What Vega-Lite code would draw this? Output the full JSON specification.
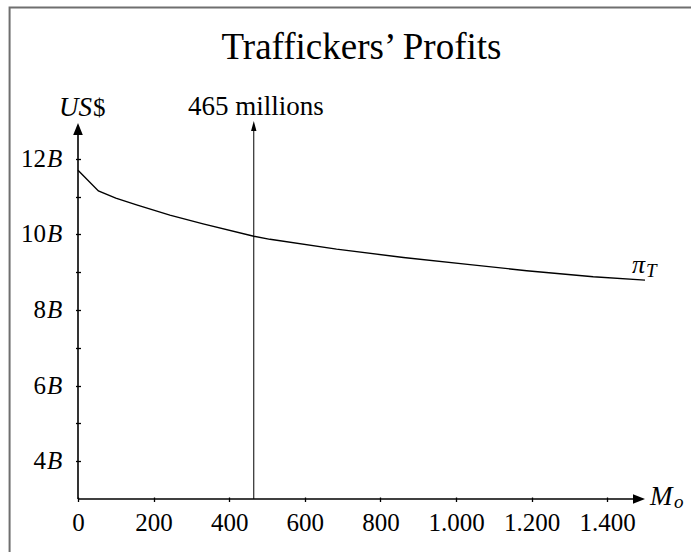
{
  "$schema": "https://vega.github.io/schema/vega-lite/v6.json",
  "width": 567,
  "height": 378,
  "autosize": "none",
  "padding": {"left": 78, "top": 121, "right": 46, "bottom": 53},
  "background": "white",
  "config": {"view": {"stroke": null}, "font": "Liberation Serif"},
  "title": {"text": "Traffickers’ Profits", "font": "Liberation Serif", "fontSize": 37, "fontWeight": "normal", "color": "black", "anchor": "middle", "frame": "group", "baseline": "alphabetic", "offset": -89},
  "datasets": {
    "curve": [
      {"mo": 0, "profit": 11.70},
      {"mo": 54, "profit": 11.15},
      {"mo": 100, "profit": 10.96},
      {"mo": 155, "profit": 10.78},
      {"mo": 243, "profit": 10.51},
      {"mo": 331, "profit": 10.28},
      {"mo": 465, "profit": 9.95},
      {"mo": 508, "profit": 9.87},
      {"mo": 684, "profit": 9.61},
      {"mo": 861, "profit": 9.39},
      {"mo": 1037, "profit": 9.20},
      {"mo": 1187, "profit": 9.04},
      {"mo": 1363, "profit": 8.88},
      {"mo": 1500, "profit": 8.79}
    ],
    "frame": [{"x1": -181, "x2": 1800, "y1": 16.0, "y2": -2}],
    "ylabels": [
      {"v": 4, "n": "4", "u": "B"},
      {"v": 6, "n": "6", "u": "B"},
      {"v": 8, "n": "8", "u": "B"},
      {"v": 10, "n": "10", "u": "B"},
      {"v": 12, "n": "12", "u": "B"}
    ]
  },
  "layer": [
    {
      "data": {"name": "frame"},
      "mark": {"type": "rect", "fillOpacity": 0, "stroke": "#6f6f6f", "strokeWidth": 2},
      "encoding": {
        "x": {"field": "x1", "type": "quantitative", "scale": {"domain": [0, 1500], "nice": false, "zero": false},
          "axis": {"values": [0, 200, 400, 600, 800, 1000, 1200, 1400], "domain": false, "grid": false, "tickSize": 4.5, "tickWidth": 1.3, "tickColor": "black", "offset": -2, "labelPadding": 9, "labelFont": "Liberation Serif", "labelFontSize": 25, "labelColor": "black", "labelExpr": "replace(format(datum.value, ','), ',', '.')", "title": null, "labelFlush": false, "labelOverlap": false}},
        "x2": {"field": "x2"},
        "y": {"field": "y1", "type": "quantitative", "scale": {"domain": [3, 13], "nice": false, "zero": false},
          "axis": {"values": [4, 5, 6, 7, 8, 9, 10, 11, 12], "domain": false, "grid": false, "labels": false, "tickSize": 5, "tickWidth": 1.3, "tickColor": "black", "offset": -2.5, "title": null}},
        "y2": {"field": "y2"}
      }
    },
    {
      "data": {"name": "curve"},
      "mark": {"type": "line", "color": "black", "strokeWidth": 1.4},
      "encoding": {
        "x": {"field": "mo", "type": "quantitative", "scale": {"domain": [0, 1500], "nice": false, "zero": false}},
        "y": {"field": "profit", "type": "quantitative", "scale": {"domain": [3, 13], "nice": false, "zero": false}}
      }
    },
    {
      "data": {"values": [{"x1": 0, "x2": 1485, "y": 3}]},
      "mark": {"type": "rule", "color": "black", "strokeWidth": 1.6},
      "encoding": {
        "x": {"field": "x1", "type": "quantitative", "scale": {"domain": [0, 1500], "nice": false, "zero": false}},
        "x2": {"field": "x2"},
        "y": {"field": "y", "type": "quantitative", "scale": {"domain": [3, 13], "nice": false, "zero": false}}
      }
    },
    {
      "data": {"values": [{"x": 0, "y1": 3, "y2": 12.75}]},
      "mark": {"type": "rule", "color": "black", "strokeWidth": 1.6},
      "encoding": {
        "x": {"field": "x", "type": "quantitative", "scale": {"domain": [0, 1500], "nice": false, "zero": false}},
        "y": {"field": "y1", "type": "quantitative", "scale": {"domain": [3, 13], "nice": false, "zero": false}},
        "y2": {"field": "y2"}
      }
    },
    {
      "data": {"values": [{"x": 465, "y1": 3, "y2": 12.8}]},
      "mark": {"type": "rule", "color": "black", "strokeWidth": 1},
      "encoding": {
        "x": {"field": "x", "type": "quantitative", "scale": {"domain": [0, 1500], "nice": false, "zero": false}},
        "y": {"field": "y1", "type": "quantitative", "scale": {"domain": [3, 13], "nice": false, "zero": false}},
        "y2": {"field": "y2"}
      }
    },
    {
      "data": {"values": [{"x": 1500, "y": 3}]},
      "mark": {"type": "point", "shape": "M0,0 L-1,-0.4 L-1,0.4 Z", "size": 576, "filled": true, "color": "black", "opacity": 1, "strokeWidth": 0},
      "encoding": {
        "x": {"field": "x", "type": "quantitative", "scale": {"domain": [0, 1500], "nice": false, "zero": false}},
        "y": {"field": "y", "type": "quantitative", "scale": {"domain": [3, 13], "nice": false, "zero": false}}
      }
    },
    {
      "data": {"values": [{"x": 0, "y": 12.95}]},
      "mark": {"type": "point", "shape": "M0,0 L0.4,1 L-0.4,1 Z", "size": 576, "filled": true, "color": "black", "opacity": 1, "strokeWidth": 0},
      "encoding": {
        "x": {"field": "x", "type": "quantitative", "scale": {"domain": [0, 1500], "nice": false, "zero": false}},
        "y": {"field": "y", "type": "quantitative", "scale": {"domain": [3, 13], "nice": false, "zero": false}}
      }
    },
    {
      "data": {"values": [{"x": 465, "y": 13}]},
      "mark": {"type": "point", "shape": "M0,0 L0.27,1 L-0.27,1 Z", "size": 400, "filled": true, "color": "black", "opacity": 1, "strokeWidth": 0},
      "encoding": {
        "x": {"field": "x", "type": "quantitative", "scale": {"domain": [0, 1500], "nice": false, "zero": false}},
        "y": {"field": "y", "type": "quantitative", "scale": {"domain": [3, 13], "nice": false, "zero": false}}
      }
    },
    {
      "data": {"name": "ylabels"},
      "mark": {"type": "text", "align": "right", "baseline": "middle", "dx": -32, "fontSize": 25, "color": "black"},
      "encoding": {
        "x": {"datum": 0, "type": "quantitative", "scale": {"domain": [0, 1500], "nice": false, "zero": false}},
        "y": {"field": "v", "type": "quantitative", "scale": {"domain": [3, 13], "nice": false, "zero": false}},
        "text": {"field": "n"}
      }
    },
    {
      "data": {"name": "ylabels"},
      "mark": {"type": "text", "align": "left", "baseline": "middle", "dx": -31, "fontSize": 25, "fontStyle": "italic", "color": "black"},
      "encoding": {
        "x": {"datum": 0, "type": "quantitative", "scale": {"domain": [0, 1500], "nice": false, "zero": false}},
        "y": {"field": "v", "type": "quantitative", "scale": {"domain": [3, 13], "nice": false, "zero": false}},
        "text": {"field": "u"}
      }
    },
    {
      "data": {"values": [{"x": 0, "y": 13, "t": "US"}]},
      "mark": {"type": "text", "align": "right", "baseline": "alphabetic", "dx": 14, "dy": -5, "fontSize": 27, "fontStyle": "italic", "color": "black"},
      "encoding": {
        "x": {"field": "x", "type": "quantitative", "scale": {"domain": [0, 1500], "nice": false, "zero": false}},
        "y": {"field": "y", "type": "quantitative", "scale": {"domain": [3, 13], "nice": false, "zero": false}},
        "text": {"field": "t"}
      }
    },
    {
      "data": {"values": [{"x": 0, "y": 13, "t": "$"}]},
      "mark": {"type": "text", "align": "left", "baseline": "alphabetic", "dx": 15, "dy": -5, "fontSize": 25, "color": "black"},
      "encoding": {
        "x": {"field": "x", "type": "quantitative", "scale": {"domain": [0, 1500], "nice": false, "zero": false}},
        "y": {"field": "y", "type": "quantitative", "scale": {"domain": [3, 13], "nice": false, "zero": false}},
        "text": {"field": "t"}
      }
    },
    {
      "data": {"values": [{"x": 465, "y": 13, "t": "465 millions"}]},
      "mark": {"type": "text", "align": "center", "baseline": "alphabetic", "dx": 2, "dy": -6, "fontSize": 27, "color": "black"},
      "encoding": {
        "x": {"field": "x", "type": "quantitative", "scale": {"domain": [0, 1500], "nice": false, "zero": false}},
        "y": {"field": "y", "type": "quantitative", "scale": {"domain": [3, 13], "nice": false, "zero": false}},
        "text": {"field": "t"}
      }
    },
    {
      "data": {"values": [{"x": 1500, "y": 8.79, "t": "π"}]},
      "mark": {"type": "text", "align": "right", "baseline": "alphabetic", "dx": 0, "dy": -7, "fontSize": 26, "fontStyle": "italic", "color": "black"},
      "encoding": {
        "x": {"field": "x", "type": "quantitative", "scale": {"domain": [0, 1500], "nice": false, "zero": false}},
        "y": {"field": "y", "type": "quantitative", "scale": {"domain": [3, 13], "nice": false, "zero": false}},
        "text": {"field": "t"}
      }
    },
    {
      "data": {"values": [{"x": 1500, "y": 8.79, "t": "T"}]},
      "mark": {"type": "text", "align": "left", "baseline": "alphabetic", "dx": 1, "dy": -3, "fontSize": 19, "fontStyle": "italic", "color": "black"},
      "encoding": {
        "x": {"field": "x", "type": "quantitative", "scale": {"domain": [0, 1500], "nice": false, "zero": false}},
        "y": {"field": "y", "type": "quantitative", "scale": {"domain": [3, 13], "nice": false, "zero": false}},
        "text": {"field": "t"}
      }
    },
    {
      "data": {"values": [{"x": 1500, "y": 3, "t": "M"}]},
      "mark": {"type": "text", "align": "left", "baseline": "alphabetic", "dx": 5, "dy": 6, "fontSize": 27, "fontStyle": "italic", "color": "black"},
      "encoding": {
        "x": {"field": "x", "type": "quantitative", "scale": {"domain": [0, 1500], "nice": false, "zero": false}},
        "y": {"field": "y", "type": "quantitative", "scale": {"domain": [3, 13], "nice": false, "zero": false}},
        "text": {"field": "t"}
      }
    },
    {
      "data": {"values": [{"x": 1500, "y": 3, "t": "o"}]},
      "mark": {"type": "text", "align": "left", "baseline": "alphabetic", "dx": 29, "dy": 9, "fontSize": 19, "fontStyle": "italic", "color": "black"},
      "encoding": {
        "x": {"field": "x", "type": "quantitative", "scale": {"domain": [0, 1500], "nice": false, "zero": false}},
        "y": {"field": "y", "type": "quantitative", "scale": {"domain": [3, 13], "nice": false, "zero": false}},
        "text": {"field": "t"}
      }
    }
  ]
}
